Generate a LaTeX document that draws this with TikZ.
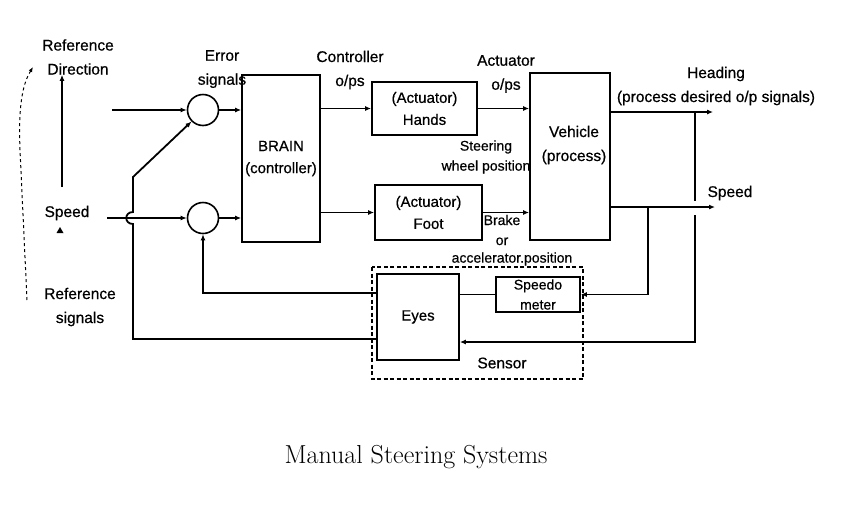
\documentclass[tikz,border=0pt]{standalone}
\usepackage{fontspec}
\usetikzlibrary{arrows.meta,positioning,calc}
\newfontfamily\diagfont[FakeBold=0.6]{Liberation Sans}
\tikzset{
  block/.style={draw,line width=1.8pt,inner sep=0pt,align=center,
    font=\diagfont\fontsize{15}{22}\selectfont},
  sumnode/.style={draw,circle,line width=1.6pt,minimum size=31pt,inner sep=0pt},
  lbl/.style={inner sep=0pt,align=center,font=\diagfont\fontsize{15.5}{24}\selectfont},
  smalllbl/.style={inner sep=0pt,align=center,font=\diagfont\fontsize{14}{20}\selectfont},
  arrow/.style={-{Latex[length=6pt,width=5pt]},line width=1.8pt},
  thinarrow/.style={-{Latex[length=6pt,width=5pt]},line width=1.1pt},
  wire/.style={line width=1.8pt},
  sensorbox/.style={draw,line width=1.2pt,dash pattern=on 4pt off 2.5pt}
}

\begin{document}
\begin{tikzpicture}[x=1pt,y=-1pt]
  \useasboundingbox (0,0) rectangle (852,507);
  % blocks
  \node[sumnode] (sum1) at (203,110) {};
  \node[sumnode] (sum2) at (203,218) {};
  \node[block,minimum width=78pt,minimum height=167pt] (brain) at (281,158.5) {BRAIN\\(controller)};
  \node[block,minimum width=105pt,minimum height=53pt] (hands) at (424.5,108.5) {(Actuator)\\Hands};
  \node[block,minimum width=107pt,minimum height=55pt] (foot) at (428.5,212.5) {(Actuator)\\Foot};
  \node[block,minimum width=80pt,minimum height=167pt] (vehicle) at (570,156.5) {};
  \node[lbl] (vehtxt) at (574,145) {Vehicle\\(process)};
  \node[block,minimum width=82pt,minimum height=86pt] (eyes) at (418,317) {Eyes};
  \node[block,minimum width=84pt,minimum height=35pt,
    font=\diagfont\fontsize{14}{20}\selectfont] (speedo) at (538,294.5) {Speedo\\meter};
  \draw[sensorbox] (372,267) rectangle (583,379);
  % labels
  \node[lbl] (refdir) at (78,57) {Reference\\Direction};
  \node[lbl] (spdlbl) at (67,213) {Speed};
  \node[lbl] (refsig) at (80,307) {Reference\\signals};
  \node[lbl] (errsig) at (222,69) {Error\\signals};
  \node[lbl] (ctrlops) at (350,70) {Controller\\o/ps};
  \node[lbl] (actops) at (506,74) {Actuator\\o/ps};
  \node[smalllbl] (steer) at (486,157) {Steering\\wheel position};
  \node[smalllbl] (brake) at (502,230) {Brake\\or};
  \node[smalllbl] (accel) at (512,259) {accelerator.position};
  \node[lbl] (heading) at (716,86) {Heading\\(process desired o/p signals)};
  \node[lbl] (spdlbl2) at (730,193) {Speed};
  \node[lbl] (sensor) at (502,363) {Sensor};
  \node[anchor=base,font=\fontsize{26}{30}\selectfont] (caption) at (416,463) {Manual Steering Systems};
  % inputs and error signals
  \coordinate (refin) at (112,110);
  \coordinate (spdin) at (107,218);
  \draw[arrow] (refin) -- (sum1);
  \draw[arrow] (spdin) -- (sum2);
  \draw[thinarrow] (sum1) -- (sum1 -| brain.west);
  \draw[thinarrow] (sum2) -- (sum2 -| brain.west);
  % controller and actuators
  \draw[arrow] (brain.east |- hands) -- (hands.west);
  \draw[arrow] (brain.east |- foot) -- (foot.west);
  \draw[arrow] (hands.east) -- (hands.east -| vehicle.west);
  \draw[arrow] (foot.east) -- (foot.east -| vehicle.west);
  % outputs
  \coordinate (headout) at (713,112);
  \coordinate (spdout) at (715,207);
  \draw[thinarrow] (vehicle.east |- headout) -- (headout);
  \draw[arrow] (vehicle.east |- spdout) -- (spdout);
  % feedback through the sensor
  \coordinate (tapspd) at (648,207);
  \coordinate (taphead) at (695,112);
  \coordinate (gaptop) at (695,201);
  \coordinate (gapbot) at (695,215);
  \draw[thinarrow] (tapspd) |- (speedo.east);
  \draw[wire] (taphead) -- (gaptop);
  \draw[arrow] (gapbot) |- ([yshift=-25pt]eyes.east);
  \draw[wire] (speedo.west) -- (speedo.west -| eyes.east);
  \draw[arrow] ([yshift=24pt]eyes.west) -| (sum2.south);
  \coordinate (hopb) at (133,224);
  \coordinate (hopt) at (133,212);
  \coordinate (kink) at (133,177);
  \draw[arrow] ([yshift=-22pt]eyes.west) -| (hopb)
    .. controls (124,224) and (124,212) .. (hopt) -- (kink) -- (sum1.225);
  % reference direction
  \coordinate (spdup) at (62,187);
  \draw[thinarrow] (spdup) -- (spdup |- refdir.south);
  \fill (56.5,233) -- (63.5,233) -- (60,227) -- cycle;
  \draw[dashed,line width=1pt,-{Latex[length=5pt,width=4pt]}]
    (27,300) -- (20,150) .. controls (18,100) and (24,82) .. (33,67);
\end{tikzpicture}
\end{document}
